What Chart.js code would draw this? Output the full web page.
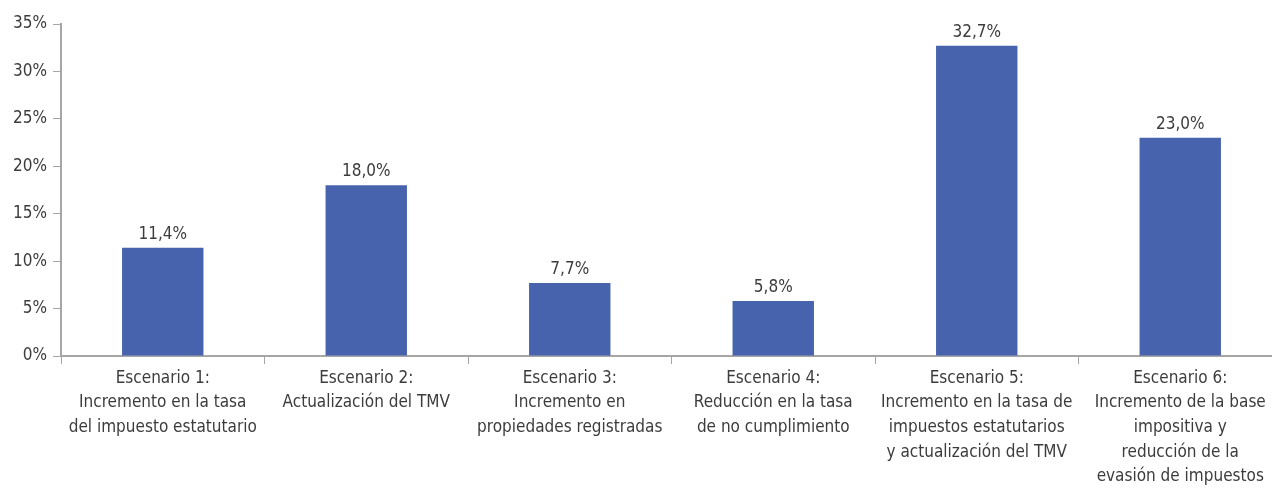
<!DOCTYPE html>
<html lang="es">
<head>
  <meta charset="UTF-8">
  <title>Escenarios</title>
  <script src="https://cdn.jsdelivr.net/npm/chart.js@4.4.0/dist/chart.umd.min.js"></script>
  <style>
    html, body { margin: 0; padding: 0; background: #fff; overflow: hidden; }
    #wrap { width: 1282px; height: 489px; position: relative; }
  </style>
</head>
<body>
  <div id="wrap"><canvas id="chart"></canvas></div>
  <script>
    // data
    const categories = [
      ['Escenario 1:', 'Incremento en la tasa', 'del impuesto estatutario'],
      ['Escenario 2:', 'Actualización del TMV'],
      ['Escenario 3:', 'Incremento en', 'propiedades registradas'],
      ['Escenario 4:', 'Reducción en la tasa', 'de no cumplimiento'],
      ['Escenario 5:', 'Incremento en la tasa de', 'impuestos estatutarios', 'y actualización del TMV'],
      ['Escenario 6:', 'Incremento de la base', 'impositiva y', 'reducción de la', 'evasión de impuestos']
    ];
    const values = [11.4, 18.0, 7.7, 5.8, 32.7, 23.0];
    const yTicks = [0, 5, 10, 15, 20, 25, 30, 35];

    const FONT = "'Liberation Sans Narrow', 'DejaVu Sans Condensed', sans-serif";
    const TEXT = '#3c3c3c';
    const AXIS = '#a6a6a6';

    const fmt = v => v.toFixed(1).replace('.', ',') + '%';

    // value labels above bars
    const barLabels = {
      id: 'barLabels',
      afterDatasetsDraw(chart) {
        const ctx = chart.ctx;
        const meta = chart.getDatasetMeta(0);
        ctx.save();
        ctx.font = '17px ' + FONT;
        ctx.fillStyle = TEXT;
        ctx.textAlign = 'center';
        ctx.textBaseline = 'bottom';
        meta.data.forEach((bar, i) => {
          ctx.fillText(fmt(values[i]), bar.x, bar.y - 5);
        });
        ctx.restore();
      }
    };

    new Chart(document.getElementById('chart'), {
      type: 'bar',
      data: {
        labels: categories,
        datasets: [{
          data: values,
          backgroundColor: '#4763ad',
          categoryPercentage: 0.4,
          barPercentage: 1
        }]
      },
      options: {
        responsive: true,
        maintainAspectRatio: false,
        animation: false,
        layout: { padding: { top: 24, right: 0, left: 0, bottom: 0 } },
        plugins: {
          legend: { display: false },
          tooltip: { enabled: false }
        },
        scales: {
          x: {
            grid: { display: true, drawOnChartArea: false, drawTicks: true, tickLength: 8, color: AXIS, offset: true },
            border: { display: true, color: AXIS, width: 2 },
            ticks: { color: TEXT, font: { family: FONT, size: 17, lineHeight: 1.45 }, padding: 2, maxRotation: 0, autoSkip: false },
            afterFit(scale) { scale.height = 133; }
          },
          y: {
            min: 0,
            max: 35,
            afterBuildTicks(scale) { scale.ticks = yTicks.map(v => ({ value: v })); },
            grid: { display: true, drawOnChartArea: false, drawTicks: true, tickLength: 8, color: AXIS },
            border: { display: true, color: AXIS, width: 2 },
            ticks: { color: TEXT, font: { family: FONT, size: 17 }, padding: 6, callback: v => v + '%' },
            afterFit(scale) { scale.width = 61; }
          }
        }
      },
      plugins: [barLabels]
    });
  </script>
</body>
</html>
